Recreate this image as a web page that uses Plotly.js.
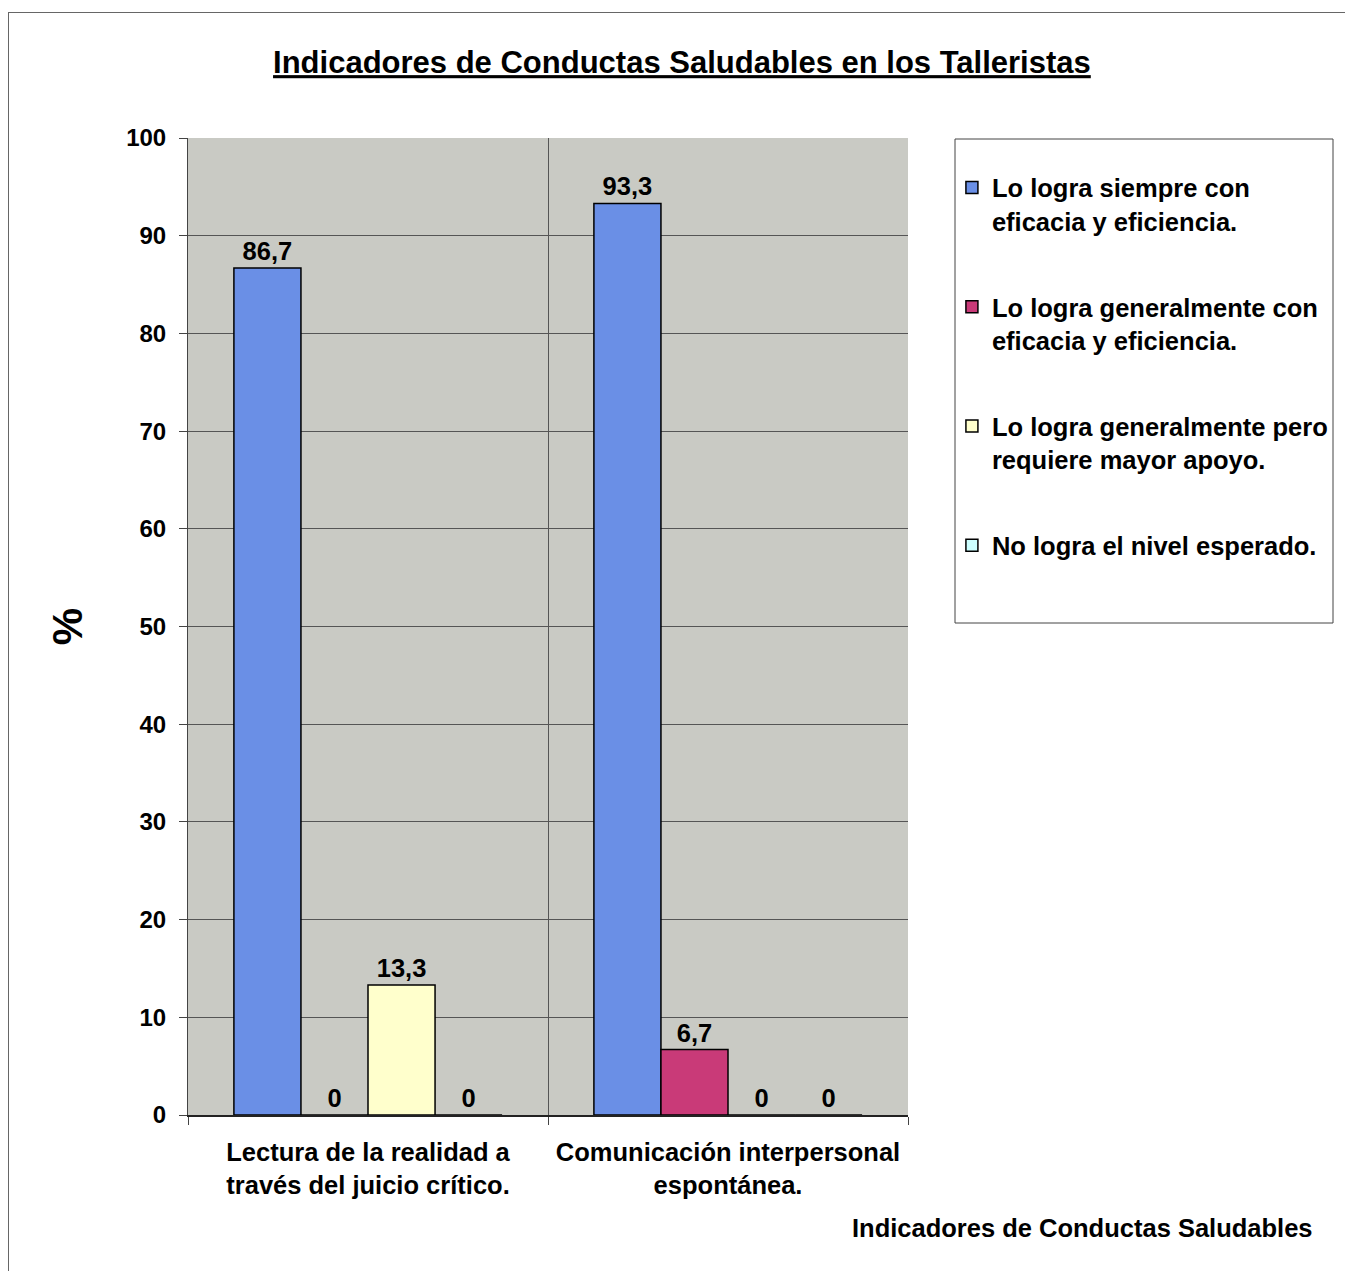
<!DOCTYPE html>
<html><head><meta charset="utf-8">
<script src="https://cdn.plot.ly/plotly-3.0.1.min.js"></script>
<style>html,body{margin:0;padding:0;background:#fff;}#wrap{position:relative;width:1345px;height:1271px;overflow:hidden;}
#chart{position:absolute;left:0;top:0;width:1345px;height:1271px;}
#frame{position:absolute;left:8px;top:12px;width:1400px;height:1400px;border:1.5px solid #666;pointer-events:none;}</style>
</head><body>
<div id="wrap"><div id="chart"></div><div id="frame"></div></div>
<script>
const categories = ["Lectura de la realidad a<br>través del juicio crítico.", "Comunicación interpersonal<br>espontánea."];
const seriesNames = ["Lo logra siempre con<br>eficacia y eficiencia.", "Lo logra generalmente con<br>eficacia y eficiencia.", "Lo logra generalmente pero<br>requiere mayor apoyo.", "No logra el nivel esperado."];
const siempre = [86.7, 93.3];
const generalmenteCon = [0, 6.7];
const generalmentePero = [13.3, 0];
const noLogra = [0, 0];
const yTicks = [0,10,20,30,40,50,60,70,80,90,100];

const colors = ["#6a8fe6", "#c93a78", "#ffffcc", "#ccffff"];
const allSeries = [siempre, generalmenteCon, generalmentePero, noLogra];
const fmt = v => String(v).replace('.', ',');

const traces = allSeries.map((vals, i) => ({
  type: 'bar', x: categories, y: vals, name: seriesNames[i],
  legendgroup: 'g' + i,
  marker: {color: colors[i], line: {color: '#000', width: 1.5}},
  text: vals.map(fmt), textposition: 'outside', cliponaxis: false,
  textfont: {family: 'Liberation Sans, Arial', size: 25.5, color: '#000', weight: 'bold'},
  hoverinfo: 'none'
}));

const layout = {
  width: 1345, height: 1271,
  margin: {l: 188, r: 437, t: 138, b: 156, autoexpand: false},
  paper_bgcolor: '#fff', plot_bgcolor: '#c9cac4',
  font: {family: 'Liberation Sans, Arial', color: '#000'},
  separators: ',.',
  barmode: 'group', bargap: 0.255, bargroupgap: 0,
  title: {text: '<b><span style="text-decoration:underline">Indicadores de Conductas Saludables en los Talleristas</span></b>',
    font: {size: 31, color: '#000'}, x: 0.507, xanchor: 'center', y: 0.951, yanchor: 'middle'},
  xaxis: {type: 'category', tickson: 'boundaries', ticks: 'outside', ticklen: 8, tickcolor: '#444',
    showgrid: true, gridcolor: '#555', gridwidth: 1, showline: true, linecolor: '#222', linewidth: 1.5,
    tickfont: {size: 25.5, weight: 'bold'}, ticklabelstandoff: 14},
  yaxis: {range: [0, 100], tickvals: yTicks, ticks: 'outside', ticklen: 8, tickcolor: '#444',
    showgrid: true, gridcolor: '#555', gridwidth: 1, showline: true, linecolor: '#444', linewidth: 1,
    zeroline: false, tickfont: {size: 24, weight: 'bold'}, ticklabelstandoff: 8,
    title: {text: '<b>%</b>', font: {size: 42}, standoff: 30}},
  showlegend: true,
  legend: {x: 1.061, xanchor: 'left', y: 0.973, yanchor: 'top', bgcolor: 'rgba(0,0,0,0)',
    font: {size: 25.5, weight: 'bold'}, tracegroupgap: 50, valign: 'top', itemwidth: 30, traceorder: 'grouped'},
  shapes: [{type: 'rect', xref: 'paper', yref: 'paper', x0: (955-188)/720, x1: (1333-188)/720,
    y0: (1115-623)/977, y1: (1115-139)/977, line: {color: '#444', width: 1}, fillcolor: 'rgba(0,0,0,0)', layer: 'below'}],
  annotations: [{xref: 'paper', yref: 'paper', x: (1315-188)/720, xanchor: 'right', y: (1115-1228)/977, yanchor: 'middle',
    text: '<b>Indicadores de Conductas Saludables</b>', showarrow: false, font: {size: 25.5}}]
};
Plotly.newPlot('chart', traces, layout, {displayModeBar: false, staticPlot: true});
</script></body></html>
